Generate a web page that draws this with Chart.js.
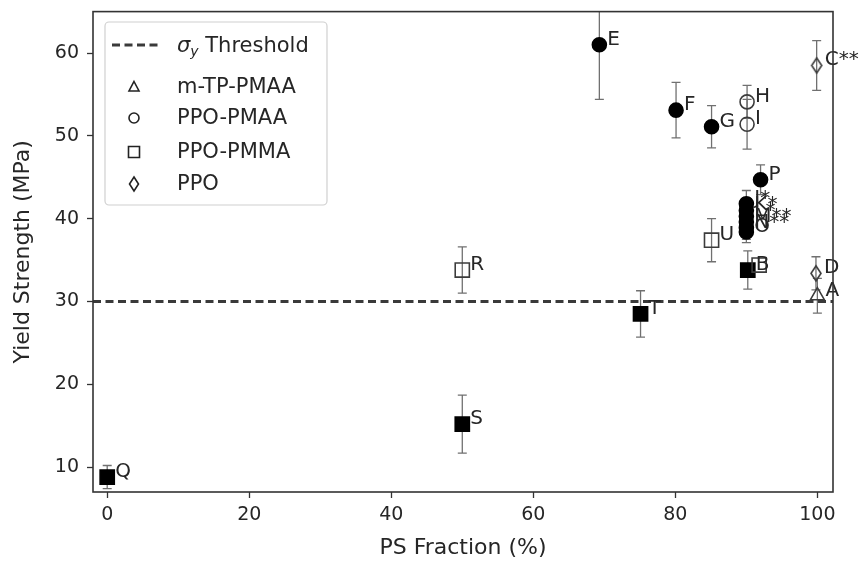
<!DOCTYPE html>
<html>
<head>
<meta charset="utf-8">
<script src="https://cdn.jsdelivr.net/npm/chart.js@4.4.1/dist/chart.umd.min.js"></script>
<style>
html, body { margin: 0; padding: 0; background: #fff; }
#wrap { width: 862px; height: 562px; }
</style>
</head>
<body>
<div id="wrap"><canvas id="yieldChart" width="862" height="562"></canvas></div>
<script>
// sample families and their marker shapes
const seriesNames = ["m-TP-PMAA", "PPO-PMAA", "PPO-PMMA", "PPO"];
const seriesShapes = ["triangle", "circle", "rect", "diamond"];

// one entry per sample
const sampleTags = ["A", "B", "", "C**", "D", "E", "F", "G", "H", "I", "J*", "K*", "L*", "M**", "N**", "O", "P", "Q", "R", "S", "T", "U"];
const psFraction = [100, 90.2, 91.8, 99.9, 99.8, 69.3, 80.1, 85.1, 90.1, 90.1, 90, 90, 90, 90, 90, 90, 92, 0, 50, 50, 75.1, 85.1];
const yieldStrength = [30.7, 33.8, 34.4, 58.5, 33.4, 61.0, 53.1, 51.1, 54.1, 51.4, 41.8, 41.0, 40.3, 39.6, 38.9, 38.4, 44.7, 8.8, 33.8, 15.2, 28.5, 37.4];
const yieldErr = [2.1, 2.3, 0, 3.0, 2.0, 6.6, 3.35, 2.55, 2.0, 3.0, 1.6, 1.5, 1.5, 1.4, 1.4, 1.3, 1.8, 1.4, 2.8, 3.5, 2.8, 2.6];
const sampleSeries = [0, 2, 2, 3, 3, 1, 1, 1, 1, 1, 1, 1, 1, 1, 1, 1, 1, 2, 2, 2, 2, 2];
const sampleSolid = [false, true, false, false, false, true, true, true, false, false, true, true, true, true, true, true, true, true, false, true, true, false];

const thresholdY = 30;
const xRange = [-2, 102.2];
const yRange = [7, 65];
const xTicks = [0, 20, 40, 60, 80, 100];
const yTicks = [10, 20, 30, 40, 50, 60];

const FONT = "'DejaVu Sans', sans-serif";
const inkColor = "#262626";
const edgeColor = "#3c3c3c";
const errColor = "#707070";

// thin diamond ('d' marker) as an image point style
function makeDiamond(w, h, lw) {
	const c = document.createElement("canvas");
	c.width = w + 4;
	c.height = h + 4;
	const g = c.getContext("2d");
	g.strokeStyle = edgeColor;
	g.lineWidth = lw;
	g.beginPath();
	g.moveTo(c.width / 2, 2);
	g.lineTo(c.width - 2, c.height / 2);
	g.lineTo(c.width / 2, c.height - 2);
	g.lineTo(2, c.height / 2);
	g.closePath();
	g.stroke();
	return c;
}
const diamondImg = makeDiamond(10, 15, 1.6);

const shapeRadius = { triangle: 8, circle: 7, rect: 10, diamond: 7 };

const scatterSets = seriesNames.map((name, s) => {
	const idx = sampleSeries.map((v, i) => (v === s ? i : -1)).filter((i) => i >= 0);
	const shape = seriesShapes[s];
	return {
		type: "scatter",
		label: name,
		data: idx.map((i) => ({ x: psFraction[i], y: yieldStrength[i] })),
		pointStyle: shape === "diamond" ? diamondImg : shape,
		pointRadius: shapeRadius[shape],
		pointHoverRadius: shapeRadius[shape],
		pointBorderWidth: 1.6,
		pointBorderColor: idx.map((i) => (sampleSolid[i] ? "#000" : edgeColor)),
		pointBackgroundColor: idx.map((i) => (sampleSolid[i] ? "#000" : "rgba(0,0,0,0)")),
		order: 1,
	};
});

const thresholdSet = {
	type: "line",
	label: "threshold",
	data: [
		{ x: xRange[0], y: thresholdY },
		{ x: xRange[1], y: thresholdY },
	],
	borderColor: "#3a3a3a",
	borderWidth: 3,
	borderDash: [8, 4.5],
	pointRadius: 0,
	order: 0,
};

const errorBars = {
	id: "errorBars",
	beforeDatasetsDraw(chart) {
		const { ctx, chartArea, scales } = chart;
		ctx.save();
		ctx.beginPath();
		ctx.rect(chartArea.left, chartArea.top, chartArea.right - chartArea.left, chartArea.bottom - chartArea.top);
		ctx.clip();
		ctx.strokeStyle = errColor;
		ctx.lineWidth = 1.3;
		psFraction.forEach((x, i) => {
			if (!yieldErr[i]) return;
			const px = scales.x.getPixelForValue(x);
			const hi = scales.y.getPixelForValue(yieldStrength[i] + yieldErr[i]);
			const lo = scales.y.getPixelForValue(yieldStrength[i] - yieldErr[i]);
			ctx.beginPath();
			ctx.moveTo(px, hi);
			ctx.lineTo(px, lo);
			ctx.moveTo(px - 4.5, hi);
			ctx.lineTo(px + 4.5, hi);
			ctx.moveTo(px - 4.5, lo);
			ctx.lineTo(px + 4.5, lo);
			ctx.stroke();
		});
		ctx.restore();
	},
};

const sampleLabels = {
	id: "sampleLabels",
	afterDatasetsDraw(chart) {
		const { ctx, scales } = chart;
		ctx.save();
		ctx.font = "20px " + FONT;
		ctx.fillStyle = inkColor;
		ctx.textBaseline = "alphabetic";
		sampleTags.forEach((tag, i) => {
			if (!tag) return;
			const px = scales.x.getPixelForValue(psFraction[i]);
			const py = scales.y.getPixelForValue(yieldStrength[i]);
			ctx.fillText(tag, px + 8, py);
		});
		ctx.restore();
	},
};

const frame = {
	id: "frame",
	afterDraw(chart) {
		const { ctx, chartArea } = chart;
		ctx.save();
		ctx.strokeStyle = "#333";
		ctx.lineWidth = 1.6;
		ctx.strokeRect(chartArea.left, chartArea.top, chartArea.right - chartArea.left, chartArea.bottom - chartArea.top);
		ctx.restore();
	},
};

function legendMarker(ctx, shape, x, y) {
	ctx.beginPath();
	if (shape === "triangle") {
		ctx.moveTo(x, y - 5.5);
		ctx.lineTo(x + 5, y + 4);
		ctx.lineTo(x - 5, y + 4);
		ctx.closePath();
	} else if (shape === "circle") {
		ctx.arc(x, y, 5, 0, Math.PI * 2);
	} else if (shape === "rect") {
		ctx.rect(x - 5.5, y - 5.5, 11, 11);
	} else {
		ctx.moveTo(x, y - 7);
		ctx.lineTo(x + 4.5, y);
		ctx.lineTo(x, y + 7);
		ctx.lineTo(x - 4.5, y);
		ctx.closePath();
	}
	ctx.stroke();
}

const legendBox = {
	id: "legendBox",
	afterDraw(chart) {
		const ctx = chart.ctx;
		const bx = 105, by = 22, bw = 222, bh = 183;
		ctx.save();
		ctx.beginPath();
		ctx.roundRect(bx, by, bw, bh, 4);
		ctx.fillStyle = "rgba(255,255,255,0.85)";
		ctx.fill();
		ctx.strokeStyle = "#d0d0d0";
		ctx.lineWidth = 1.2;
		ctx.stroke();

		// threshold entry
		ctx.strokeStyle = "#3a3a3a";
		ctx.lineWidth = 3;
		ctx.setLineDash([8, 4.5]);
		ctx.beginPath();
		ctx.moveTo(112, 45);
		ctx.lineTo(158, 45);
		ctx.stroke();
		ctx.setLineDash([]);

		ctx.fillStyle = inkColor;
		ctx.textBaseline = "alphabetic";
		let tx = 177;
		ctx.font = "italic 21px " + FONT;
		ctx.fillText("σ", tx, 52);
		tx += ctx.measureText("σ").width;
		ctx.font = "italic 14px " + FONT;
		ctx.fillText("y", tx, 56);
		tx += ctx.measureText("y").width;
		ctx.font = "21px " + FONT;
		ctx.fillText(" Threshold", tx, 52);

		const rows = [87, 118, 152, 184];
		ctx.strokeStyle = "#222";
		ctx.lineWidth = 1.6;
		seriesNames.forEach((name, s) => {
			legendMarker(ctx, seriesShapes[s], 134, rows[s]);
			ctx.textBaseline = "middle";
			ctx.fillText(name, 177, rows[s] + 1);
		});
		ctx.restore();
	},
};

const axisTick = {
	display: true,
	drawOnChartArea: false,
	drawTicks: true,
	tickLength: 6,
	tickWidth: 1.3,
	tickColor: "#333",
};

new Chart(document.getElementById("yieldChart"), {
	data: { datasets: [thresholdSet, ...scatterSets] },
	options: {
		responsive: false,
		animation: false,
		devicePixelRatio: 1,
		layout: { padding: { left: 0, top: 11, right: 29, bottom: 0 } },
		plugins: { legend: { display: false }, tooltip: { enabled: false } },
		scales: {
			x: {
				type: "linear",
				min: xRange[0],
				max: xRange[1],
				afterBuildTicks: (s) => { s.ticks = xTicks.map((v) => ({ value: v })); },
				afterFit: (s) => { s.height = 70; s.paddingLeft = 0; s.paddingRight = 0; },
				border: { display: false },
				grid: axisTick,
				ticks: { font: { family: FONT, size: 19 }, color: inkColor, padding: 6, maxRotation: 0 },
				title: { display: true, text: "PS Fraction (%)", font: { family: FONT, size: 22 }, color: inkColor, padding: { top: 0, bottom: 1 } },
			},
			y: {
				type: "linear",
				min: yRange[0],
				max: yRange[1],
				afterBuildTicks: (s) => { s.ticks = yTicks.map((v) => ({ value: v })); },
				afterFit: (s) => { s.width = 93; s.paddingTop = 0; s.paddingBottom = 0; },
				border: { display: false },
				grid: axisTick,
				ticks: { font: { family: FONT, size: 19 }, color: inkColor, padding: 8 },
				title: { display: true, text: "Yield Strength (MPa)", font: { family: FONT, size: 22 }, color: inkColor, padding: { top: 10, bottom: 0 } },
			},
		},
	},
	plugins: [errorBars, sampleLabels, frame, legendBox],
});
</script>
</body>
</html>
